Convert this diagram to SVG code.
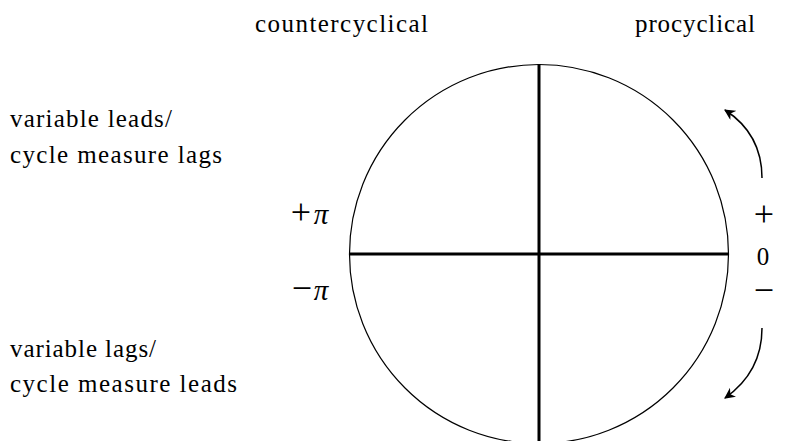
<svg xmlns="http://www.w3.org/2000/svg" width="795" height="441" viewBox="0 0 795 441">
<style>
.axis{stroke:#000;stroke-width:3;fill:none}
.arc{stroke:#000;stroke-width:1.5;fill:none}
.t{font-family:'Liberation Serif',serif;font-size:25px;fill:#000}
.sym{font-family:'Liberation Serif',serif;font-size:36px;fill:#000}
.pi{font-family:'Liberation Serif',serif;font-size:29px;font-style:italic;fill:#000}
</style>
<defs>
<marker id="ah" viewBox="0 0 10 10" refX="9" refY="5" markerWidth="11" markerHeight="11" markerUnits="userSpaceOnUse" orient="auto">
<path d="M0,0 L10,5 L0,10 L3,5 Z" fill="#000"/>
</marker>
</defs>
<g id="circle">
<circle cx="539" cy="254" r="189.5" fill="none" stroke="#000" stroke-width="1.2"/>
</g>
<g id="axes">
<line class="axis" x1="349" y1="254" x2="728" y2="254"/>
<line class="axis" x1="539" y1="64" x2="539" y2="441"/>
</g>
<g id="connectors">
<path class="arc" d="M762,178 Q762,134 725,110" marker-end="url(#ah)"/>
<path class="arc" d="M762,328 Q762,372 725,398" marker-end="url(#ah)"/>
</g>
<g id="labels">
<text class="t" x="255" y="32" textLength="173" lengthAdjust="spacing">countercyclical</text>
<text class="t" x="635" y="32" textLength="120" lengthAdjust="spacing">procyclical</text>
<text class="t" x="10" y="127" textLength="162" lengthAdjust="spacing">variable leads/</text>
<text class="t" x="10" y="163" textLength="212" lengthAdjust="spacing">cycle measure lags</text>
<text class="t" x="10" y="357" textLength="146" lengthAdjust="spacing">variable lags/</text>
<text class="t" x="10" y="392" textLength="227" lengthAdjust="spacing">cycle measure leads</text>
<text class="sym" x="301" y="224" text-anchor="middle">+</text>
<text class="pi" x="321" y="224" text-anchor="middle">π</text>
<text class="sym" x="302" y="300" text-anchor="middle">−</text>
<text class="pi" x="321" y="300" text-anchor="middle">π</text>
<text class="sym" x="764" y="226" text-anchor="middle">+</text>
<text class="t" x="763" y="265" text-anchor="middle" font-size="29">0</text>
<text class="sym" x="764" y="302" text-anchor="middle">−</text>
</g>
</svg>
